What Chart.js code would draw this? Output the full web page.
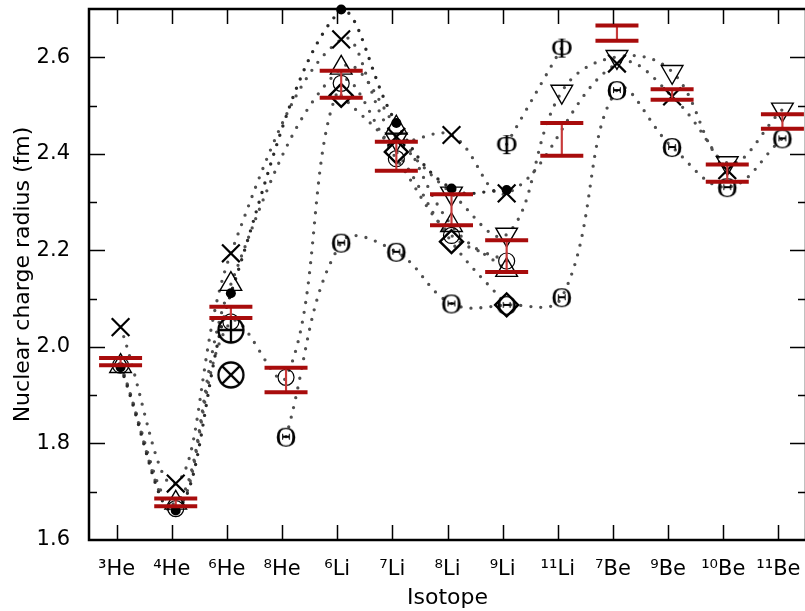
<!DOCTYPE html>
<html>
<head>
<meta charset="utf-8">
<script src="https://cdn.jsdelivr.net/npm/chart.js@4.4.0/dist/chart.umd.min.js"></script>
<style>
  html, body { margin: 0; padding: 0; background: #fff; overflow: hidden; }
  #wrap { width: 808px; height: 611px; }
</style>
</head>
<body>
<div id="wrap"><canvas id="chart" width="808" height="611"></canvas></div>
<script>
// isotopes on the x axis
const isotopes = ['³He', '⁴He', '⁶He', '⁸He', '⁶Li', '⁷Li', '⁸Li', '⁹Li', '¹¹Li', '⁷Be', '⁹Be', '¹⁰Be', '¹¹Be'];

// experimental radii (lower / upper end of the error bar), fm
const expLow  = [1.962, 1.670, 2.060, 1.906, 2.516, 2.365, 2.252, 2.155, 2.396, 2.634, 2.512, 2.342, 2.452];
const expHigh = [1.977, 1.686, 2.083, 1.957, 2.572, 2.425, 2.316, 2.221, 2.464, 2.666, 2.534, 2.378, 2.482];

// model predictions, one array per marker
const filledDot = [1.958, 1.661, 2.111, null, 2.699, 2.464, 2.328, 2.325, null, null, null, null, null];
const crossX    = [2.041, 1.717, 2.194, null, 2.637, 2.435, 2.439, 2.318, null, 2.587, 2.519, 2.366, null];
const triUp     = [1.960, 1.677, 2.130, null, 2.578, 2.454, 2.252, 2.159, null, null, null, null, null];
const triDown   = [null, null, null, null, null, 2.430, 2.318, 2.233, 2.529, 2.601, 2.570, 2.381, 2.492];
const openCircle = [1.962, 1.665, 2.052, 1.937, 2.546, 2.390, 2.231, 2.178, null, null, null, null, null];
const diamond   = [null, null, null, null, 2.521, 2.404, 2.218, 2.087, null, null, null, null, null];
const theta     = [null, null, null, 1.814, 2.216, 2.197, 2.090, 2.087, 2.103, 2.532, 2.414, 2.331, 2.432];
const phi       = [null, null, null, null, null, null, null, 2.420, 2.620, null, null, null, null];
const oplus     = [null, null, 2.035, null, null, null, null, null, null, null, null, null, null];
const otimes    = [null, null, 1.942, null, null, null, null, null, null, null, null, null, null];

// small canvases used as point styles
function glyph(ch, px) {
    const c = document.createElement('canvas');
    c.width = 34; c.height = 34;
    const g = c.getContext('2d');
    g.font = px + 'px "Liberation Serif", "DejaVu Serif", serif';
    g.textAlign = 'center';
    g.textBaseline = 'alphabetic';
    const m = g.measureText(ch);
    const y = 17 + (m.actualBoundingBoxAscent - m.actualBoundingBoxDescent) / 2;
    g.fillStyle = '#000';
    g.fillText(ch, 17, y);
    return c;
}

function circled(rotated) {
    const c = document.createElement('canvas');
    c.width = 32; c.height = 32;
    const g = c.getContext('2d');
    const r = 12.5;
    g.lineWidth = 2.3;
    g.strokeStyle = '#000';
    g.beginPath();
    g.arc(16, 16, r, 0, Math.PI * 2);
    if (rotated) {
        const d = r * Math.SQRT1_2;
        g.moveTo(16 - d, 16 - d); g.lineTo(16 + d, 16 + d);
        g.moveTo(16 + d, 16 - d); g.lineTo(16 - d, 16 + d);
    } else {
        g.moveTo(16 - r, 16); g.lineTo(16 + r, 16);
        g.moveTo(16, 16 - r); g.lineTo(16, 16 + r);
    }
    g.stroke();
    return c;
}

const thetaImg = glyph('Θ', 29);
const phiImg = glyph('Φ', 29);

function dotted(data, color, width) {
    return {
        type: 'line', data, borderColor: color, borderWidth: width,
        borderDash: [0, 10], borderCapStyle: 'round',
        pointRadius: 0, tension: 0.4, spanGaps: true, fill: false,
        order: 10, clip: false
    };
}

function marks(data, style, extra) {
    return Object.assign({
        type: 'line', data, showLine: false, pointStyle: style,
        pointRadius: 8, pointBorderWidth: 1.3,
        pointBorderColor: '#000', pointBackgroundColor: 'rgba(0,0,0,0)',
        order: 5, clip: false
    }, extra);
}

// ticks pointing inward on all four sides, plus the frame
const frameTicks = {
    id: 'frameTicks',
    afterDraw(chart) {
        const { ctx, chartArea: a, scales: { x, y } } = chart;
        ctx.save();
        ctx.strokeStyle = '#000';
        ctx.lineWidth = 1.5;
        ctx.beginPath();
        x.ticks.forEach((t, i) => {
            const px = Math.round(x.getPixelForTick(i)) + 0.5;
            ctx.moveTo(px, a.bottom); ctx.lineTo(px, a.bottom - 15);
            ctx.moveTo(px, a.top); ctx.lineTo(px, a.top + 15);
        });
        y.ticks.forEach((t) => {
            const k = Math.round(t.value * 10);
            if (k <= 16 || k >= 27) return;
            const py = Math.round(y.getPixelForValue(t.value)) + 0.5;
            const len = k % 2 === 0 ? 16 : 8;
            ctx.moveTo(a.left, py); ctx.lineTo(a.left + len, py);
            ctx.moveTo(a.right, py); ctx.lineTo(a.right - len, py);
        });
        ctx.stroke();
        ctx.lineWidth = 2.5;
        ctx.strokeRect(a.left, a.top, a.right - a.left, a.bottom - a.top);
        ctx.restore();
    }
};

// the plotted symbols sit a few pixels right of the tick marks in the original
const shiftMarks = {
    id: 'shiftMarks',
    beforeDatasetsDraw(chart) { chart.ctx.save(); chart.ctx.translate(4, 0); },
    afterDatasetsDraw(chart) { chart.ctx.restore(); }
};

const red = '#a80c0c';
const axisFont = { family: '"DejaVu Sans", sans-serif', size: 21 };
const titleFont = { family: '"DejaVu Sans", sans-serif', size: 22 };

new Chart(document.getElementById('chart'), {
    type: 'line',
    data: {
        labels: isotopes,
        datasets: [
            dotted(filledDot, '#2a2a2a', 3.4),
            dotted(crossX, '#505050', 3.3),
            dotted(triUp, '#505050', 3.3),
            dotted(triDown, '#505050', 3.3),
            dotted(openCircle, '#505050', 3.3),
            dotted(diamond, '#505050', 3.3),
            dotted(theta, '#505050', 3.3),
            dotted(phi, '#505050', 3.3),
            marks(diamond, 'rectRot', { pointRadius: 11.5, pointBorderWidth: 2.4 }),
            marks(openCircle, 'circle', { pointRadius: 8, pointBorderWidth: 1.2 }),
            marks(triUp, 'triangle', { pointRadius: 12.5, pointBorderWidth: 1.4 }),
            marks(triDown, 'triangle', { pointRadius: 12.5, pointBorderWidth: 1.4, pointRotation: 180 }),
            marks(crossX, 'crossRot', { pointRadius: 12.5, pointBorderWidth: 2.2 }),
            marks(filledDot, 'circle', { pointRadius: 5, pointBorderWidth: 0, pointBackgroundColor: '#000' }),
            marks(theta, thetaImg, { pointRadius: 10 }),
            marks(phi, phiImg, { pointRadius: 10 }),
            marks(oplus, circled(false), { pointRadius: 12 }),
            marks(otimes, circled(true), { pointRadius: 12 }),
            {
                type: 'bar', data: isotopes.map((_, i) => [expLow[i], expHigh[i]]),
                backgroundColor: '#c83a3a', barThickness: 1.5, grouped: false, order: 1
            },
            marks(expLow, 'line', { pointRadius: 21.5, pointBorderWidth: 4, pointBorderColor: red, order: 0 }),
            marks(expHigh, 'line', { pointRadius: 21.5, pointBorderWidth: 4, pointBorderColor: red, order: 0 })
        ]
    },
    options: {
        responsive: false,
        animation: false,
        events: [],
        devicePixelRatio: 1,
        layout: { autoPadding: false, padding: { top: 9, right: 2, left: 0, bottom: 0 } },
        plugins: { legend: { display: false }, tooltip: { enabled: false } },
        scales: {
            x: {
                offset: true,
                grid: { display: false },
                border: { display: false },
                ticks: { color: '#000', font: axisFont, padding: 9, autoSkip: false, maxRotation: 0 },
                title: { display: true, text: 'Isotope', color: '#000', font: titleFont, padding: { top: 0, bottom: 0 } },
                afterFit: (s) => { s.height = 71; s.paddingLeft = 0; s.paddingRight = 0; }
            },
            y: {
                min: 1.6, max: 2.7,
                grid: { display: false },
                border: { display: false },
                ticks: {
                    stepSize: 0.1, color: '#000', font: axisFont, padding: 11,
                    callback: (v) => {
                        const k = Math.round(v * 10);
                        return (k % 2 === 0 && k < 27) ? (k / 10).toFixed(1) : '';
                    }
                },
                title: { display: true, text: 'Nuclear charge radius (fm)', color: '#000', font: titleFont, padding: { top: 10, bottom: 0 } },
                afterFit: (s) => { s.width = 89; s.paddingTop = 0; s.paddingBottom = 0; }
            }
        }
    },
    plugins: [shiftMarks, frameTicks]
});
</script>
</body>
</html>
